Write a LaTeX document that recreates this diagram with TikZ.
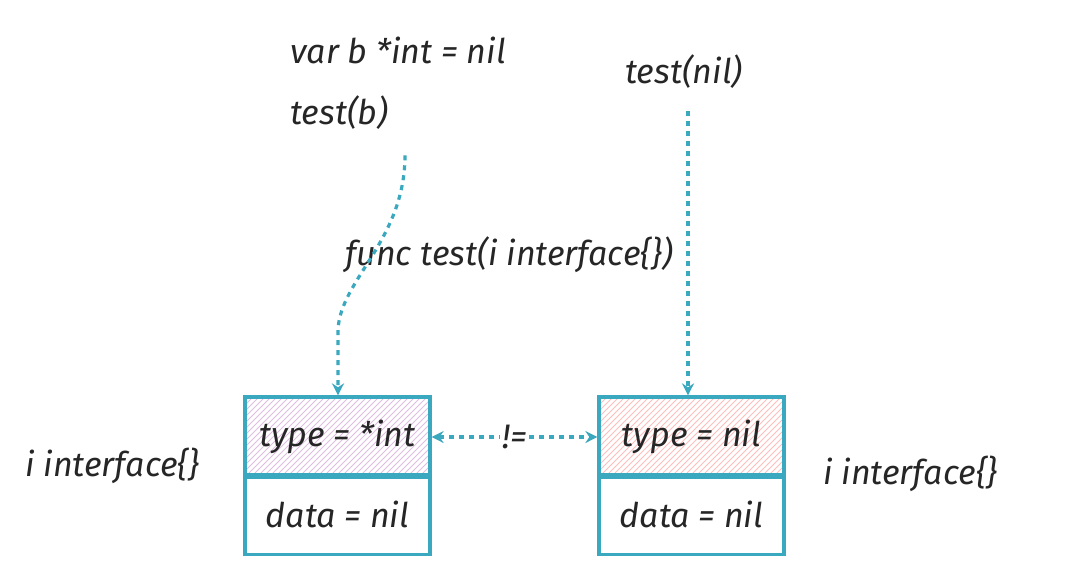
\documentclass[tikz,border=0pt]{standalone}
\usepackage{fontspec}
\setmainfont{Fira Sans}
\usetikzlibrary{patterns,arrows.meta}
\definecolor{teal}{RGB}{58,168,190}
\tikzset{
  code/.style={font=\fontsize{17}{19}\selectfont\itshape, text=black!85, inner sep=0pt},
  cell/.style={draw=teal, line width=1.6pt, minimum width=92.5pt, minimum height=40pt, code},
  flow/.style={teal, line width=1.6pt, dash pattern=on 2.5pt off 2.5pt, -{Stealth[length=6pt,width=6pt]}}
}
\begin{document}
\begin{tikzpicture}[x=0.5pt,y=-0.5pt]
		    \useasboundingbox (0,0) rectangle (1082,584);
		    % code on top
		    \node [code, anchor=west] (decl) at (290,50) {var b *int = nil};
		    \node [code, anchor=west] (callb) at (290,113) {test(b)};
		    \node [code, anchor=west] (calln) at (625,72) {test(nil)};
		    \node [code, anchor=west] (func) at (345,255) {func test(i interface\{\})};
		    
		    % left interface
		    \node [cell, pattern=north east lines, pattern color=violet!25] (ltype) at (337.5,437) {};
		    \node [code] at (ltype) {type = *int};
		    \node [cell] (ldata) at (337.5,514.5) {data = nil};
		    \node [code, anchor=west] (lname) at (25,466) {i interface\{\}};
		    
		    % right interface
		    \node [cell, pattern=north east lines, pattern color=red!25] (rtype) at (691.5,437) {};
		    \node [code] at (rtype) {type = nil};
		    \node [cell] (rdata) at (691.5,514.5) {data = nil};
		    \node [code, anchor=west] (rname) at (823,474) {i interface\{\}};
		    
		    \draw [flow] (callb.south -| 405,0) ++(0,25) .. controls (405,240) and (340,280) .. (338,330) -- (ltype.north -| 338,0);
		    \draw [flow] (calln.south -| 688,0) ++(0,22) -- (rtype.north -| 688,0);
		    \draw [flow, {Stealth[length=6pt,width=6pt]}-{Stealth[length=6pt,width=6pt]}] (ltype.east) -- node [code, fill=white, inner sep=1pt] {!=} (rtype.west);
\end{tikzpicture}
\end{document}
